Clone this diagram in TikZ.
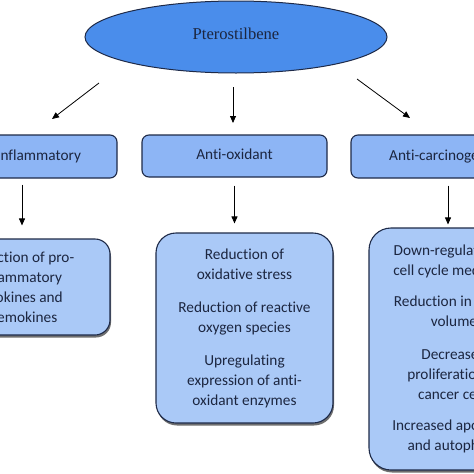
\documentclass[tikz,border=0pt]{standalone}
\usepackage{fontspec}
\setmainfont{Carlito}[Ligatures=NoCommon]
\newfontfamily\serifpt{Liberation Serif}
\usetikzlibrary{arrows.meta,shapes.geometric,shadows}
\definecolor{ellfill}{HTML}{4A8DEB}
\definecolor{topfill}{HTML}{8DB5F5}
\definecolor{botfill}{HTML}{AAC9F7}
\definecolor{edge}{HTML}{1E2A48}
\definecolor{txt}{HTML}{1C2640}
\tikzset{
  x=1pt,y=-1pt,
  arr/.style={draw=black,line width=0.8pt,-{Triangle[length=7pt,width=6pt]}},
  topbox/.style={draw=edge,line width=1.1pt,fill=topfill,rounded corners=7pt,
    text=txt,font=\fontsize{15.3}{20}\selectfont,inner sep=0pt,anchor=center},
  botbox/.style={draw=edge,line width=1.1pt,fill=botfill,rounded corners=20pt,
    text=txt,font=\fontsize{15.3}{20}\selectfont,align=center,inner sep=0pt,anchor=center,
    drop shadow={shadow xshift=1pt,shadow yshift=-2.5pt,opacity=0.7,fill=black!80}},
}
\begin{document}
\begin{tikzpicture}
\useasboundingbox (0,0) rectangle (474,474);
\clip (0,0) rectangle (474,474);
\fill[white] (0,0) rectangle (474,474);
% ellipse
\node[ellipse,draw=edge,line width=1pt,fill=ellfill,minimum width=302pt,minimum height=72pt,
  inner sep=0pt,text=txt,font=\serifpt\fontsize{16.6}{18}\selectfont] (ell) at (236,37) {\raisebox{6pt}{Pterostilbene}};
% top boxes
\node[topbox,minimum width=172pt,minimum height=43pt] (inf) at (31,156.5) {\raisebox{3pt}{Anti-inflammatory}\rule{14pt}{0pt}};
\node[topbox,minimum width=185pt,minimum height=42pt] (ox) at (234.5,156) {\raisebox{3pt}{Anti-oxidant}};
\node[topbox,minimum width=178pt,minimum height=43pt] (car) at (440,156.5) {\rule{6pt}{0pt}\raisebox{3pt}{Anti-carcinogenic}};
% bottom boxes
\node[botbox,minimum width=164pt,minimum height=96pt,rounded corners=15pt] (infb) at (28,287)
  {\raisebox{-4pt}{\parbox{130pt}{\centering Reduction of pro-\\inflammatory\\cytokines and\\chemokines}}\hspace{16pt}};
\node[botbox,minimum width=177pt,minimum height=190pt] (oxb) at (244.5,328)
  {\raisebox{-3pt}{\parbox{170pt}{\centering Reduction of\\oxidative stress\\[13pt]Reduction of reactive\\oxygen species\\[13pt]Upregulating\\expression of anti-\\oxidant enzymes}}};
\node[botbox,minimum width=170pt,minimum height=242pt,rounded corners=22pt] (carb) at (454,349)
  {\parbox{165pt}{\centering Down-regulation of\\cell cycle mediators\\[11pt]Reduction in tumor\\volume\\[13pt]Decreased\\proliferation of\\cancer cells\\[11pt]Increased apoptosis\\and autophagy}};
% arrows
\coordinate (a1s) at (99,83);  \coordinate (a1e) at (52,119);
\coordinate (a2s) at (233,87); \coordinate (a2e) at (233,123);
\coordinate (a3s) at (357,79); \coordinate (a3e) at (410,118);
\draw[arr] (a1s) -- (a1e);
\draw[arr] (a2s) -- (a2e);
\draw[arr] (a3s) -- (a3e);
\draw[arr] ([yshift=-6pt]inf.south -| 22,0) -- ([yshift=13pt]infb.north -| 22,0);
\draw[arr] ([yshift=-8pt]ox.south) -- ([yshift=9pt]oxb.north -| ox.south);
\draw[arr] ([yshift=-7pt]car.south -| 448,0) -- ([yshift=3pt]carb.north -| 448,0);
\end{tikzpicture}
\end{document}
